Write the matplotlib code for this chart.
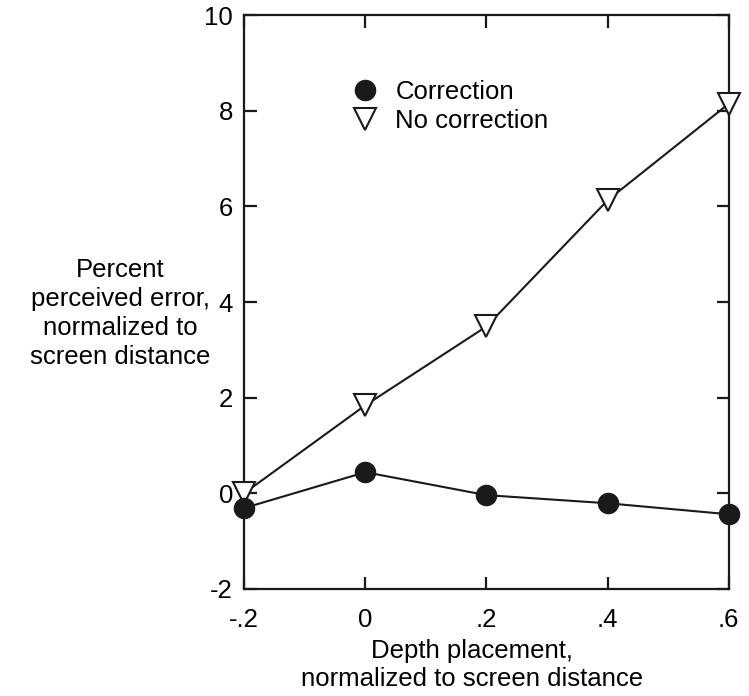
import matplotlib
matplotlib.use("Agg")
import matplotlib.pyplot as plt
from matplotlib.lines import Line2D

plt.rcParams['font.family'] = ['Liberation Sans', 'DejaVu Sans']

# data
depth = [-0.2, 0.0, 0.2, 0.4, 0.6]
correction = [-0.31, 0.44, -0.04, -0.21, -0.44]
no_correction = [0.0, 1.84, 3.49, 6.13, 8.15]

x_ticks = [-0.2, 0.0, 0.2, 0.4, 0.6]
x_ticklabels = ["-.2", "0", ".2", ".4", ".6"]
y_ticks = [-2, 0, 2, 4, 6, 8, 10]
y_ticklabels = ["-2", "0", "2", "4", "6", "8", "10"]

fig = plt.figure(figsize=(7.49, 6.96), dpi=100)
ax = fig.add_axes([0.326, 0.154, 0.647, 0.824])

ax.plot(depth, no_correction, color='#1a1a1a', lw=1.5, marker='v', ms=16,
        mfc='white', mec='#1a1a1a', mew=1.5, clip_on=False, zorder=3)
ax.plot(depth, correction, color='#1a1a1a', lw=1.5, marker='o', ms=14.5,
        mfc='#1a1a1a', mec='#1a1a1a', clip_on=False, zorder=4)

ax.set_xlim(-0.2, 0.6)
ax.set_ylim(-2, 10)
ax.set_xticks(x_ticks)
ax.set_xticklabels(x_ticklabels)
ax.set_yticks(y_ticks)
ax.set_yticklabels(y_ticklabels)

for s in ax.spines.values():
    s.set_linewidth(1.6)
    s.set_color('#1a1a1a')

ax.tick_params(axis='both', direction='in', length=9, width=1.6,
               top=True, right=True, labelsize=18.5, color='#1a1a1a')
ax.tick_params(axis='x', pad=14)
ax.tick_params(axis='y', pad=8)

ax.set_ylabel("Percent\nperceived error,\nnormalized to\nscreen distance",
              rotation=0, ha='center', va='center', fontsize=18.5,
              linespacing=1.25)
ax.yaxis.set_label_coords(-0.256, 0.48)
ax.set_xlabel("Depth placement,\nnormalized to screen distance",
              fontsize=18.5, ha='center', va='center', linespacing=1.25)
ax.xaxis.set_label_coords(0.47, -0.133)

handles = [
    Line2D([], [], ls='None', marker='o', ms=14.5, mfc='#1a1a1a', mec='#1a1a1a'),
    Line2D([], [], ls='None', marker='v', ms=16, mfc='white', mec='#1a1a1a', mew=1.5),
]
ax.legend(handles, ["Correction", "No correction"], loc='upper left',
          bbox_to_anchor=(0.222, 0.888), frameon=False, fontsize=18.5,
          handlelength=1.0, handletextpad=0.7, labelspacing=0.22,
          borderpad=0, borderaxespad=0)

fig.savefig("out.png", dpi=100)
